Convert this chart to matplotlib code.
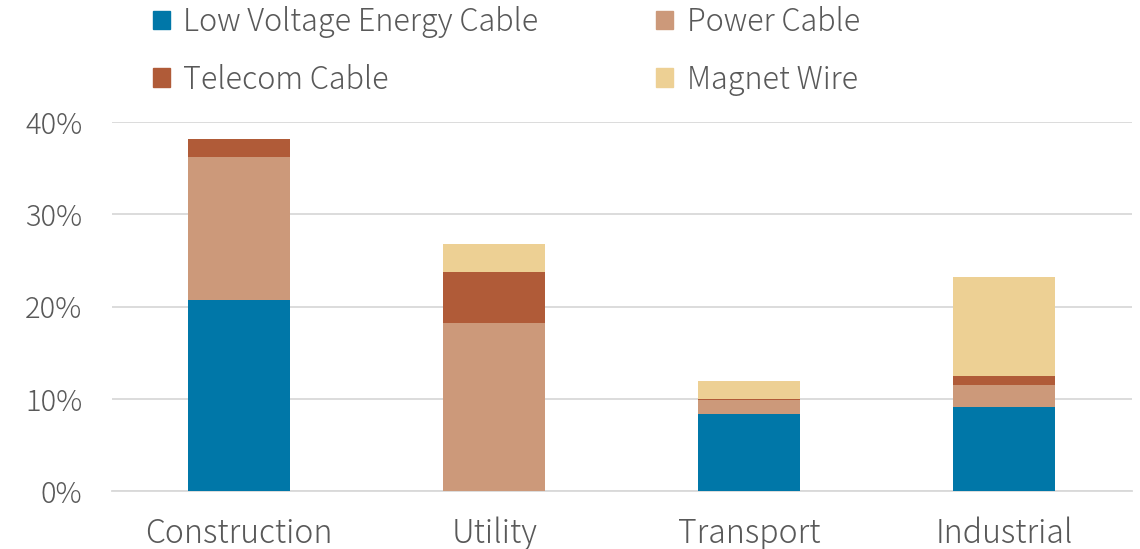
import matplotlib
matplotlib.use('Agg')
import matplotlib.pyplot as plt
from matplotlib.patches import Patch
import numpy as np

plt.rcParams['font.family'] = ['Noto Sans CJK JP', 'DejaVu Sans']
plt.rcParams['font.weight'] = 'light'

categories = ['Construction', 'Utility', 'Transport', 'Industrial']
low_voltage = [20.7, 0.0, 8.4, 9.1]
power_cable = [15.5, 18.2, 1.5, 2.4]
telecom_cable = [2.0, 5.5, 0.1, 1.0]
magnet_wire = [0.0, 3.1, 1.9, 10.7]

series = [
    ('Low Voltage Energy Cable', low_voltage, '#0077A8'),
    ('Power Cable', power_cable, '#CC997A'),
    ('Telecom Cable', telecom_cable, '#B05B38'),
    ('Magnet Wire', magnet_wire, '#EDD094'),
]

text_color = '#595959'

fig = plt.figure(figsize=(11.4, 5.49), dpi=100)
ax = fig.add_axes([0.098, 0.1056, 0.895, 0.672])

x = np.arange(len(categories))
bottom = np.zeros(len(categories))
for name, vals, color in series:
    vals = np.array(vals)
    ax.bar(x, vals, width=0.40, bottom=bottom, color=color, zorder=3)
    bottom += vals

ax.set_xlim(-0.5, 3.5)
ax.set_ylim(0, 40)
ax.set_yticks([0, 10, 20, 30, 40])
ax.set_yticklabels([f'{v}%' for v in [0, 10, 20, 30, 40]])
ax.set_xticks(x)
ax.set_xticklabels(categories)
ax.tick_params(axis='both', length=0, colors=text_color)
ax.tick_params(axis='x', pad=18, labelsize=23)
ax.tick_params(axis='y', pad=21, labelsize=21)
ax.grid(axis='y', color='#D9D9D9', linewidth=1.3, zorder=0)
for s in ['top', 'right', 'left']:
    ax.spines[s].set_visible(False)
ax.spines['bottom'].set_color('#D9D9D9')
ax.spines['bottom'].set_linewidth(1.3)

# legend fills column-wise, so reorder to get LV / Power on the first row
order = [0, 2, 1, 3]
handles = [Patch(color=series[i][2]) for i in order]
labels = [series[i][0] for i in order]
fig.legend(handles, labels, ncol=2, loc='upper left', bbox_to_anchor=(0.11, 1.04),
           frameon=False, fontsize=22, labelcolor=text_color,
           handlelength=0.55, handleheight=0.55, handletextpad=0.45,
           columnspacing=3.85, labelspacing=0.85)

fig.savefig('out.png', dpi=100)
